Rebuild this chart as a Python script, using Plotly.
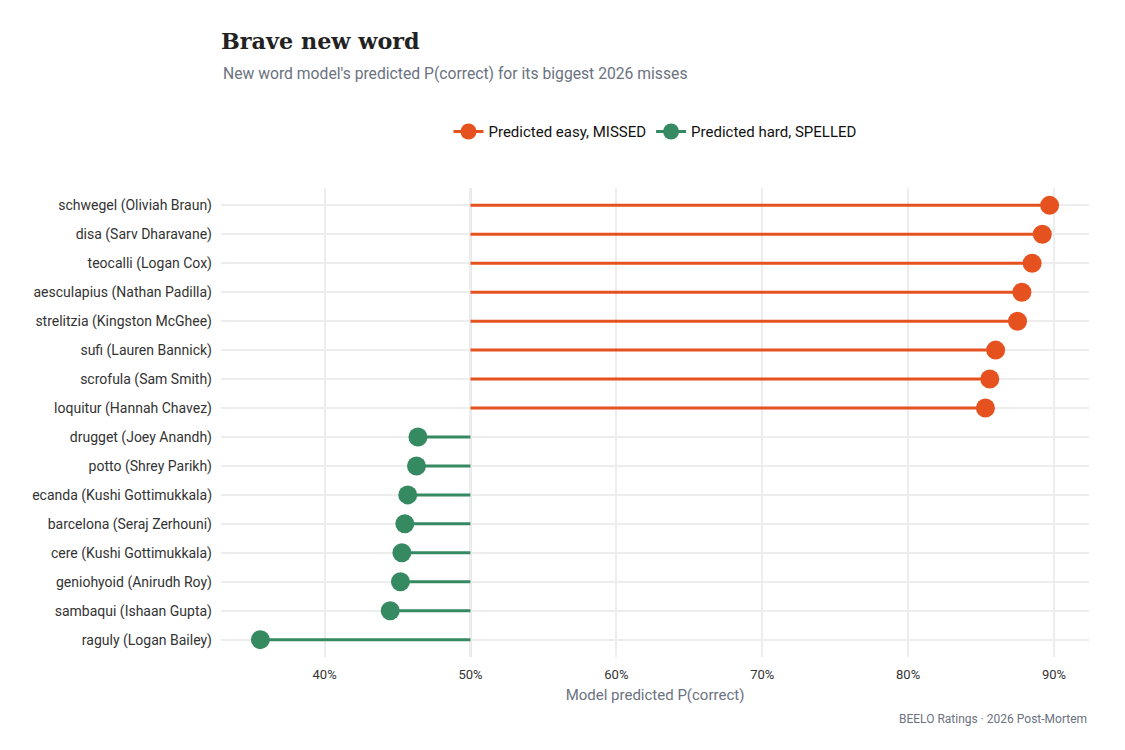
import plotly.graph_objects as go

# words ordered top to bottom
missed_words = ['schwegel (Oliviah Braun)', 'disa (Sarv Dharavane)', 'teocalli (Logan Cox)',
                'aesculapius (Nathan Padilla)', 'strelitzia (Kingston McGhee)', 'sufi (Lauren Bannick)',
                'scrofula (Sam Smith)', 'loquitur (Hannah Chavez)']
missed_p = [89.7, 89.2, 88.5, 87.8, 87.5, 86.0, 85.6, 85.3]

spelled_words = ['drugget (Joey Anandh)', 'potto (Shrey Parikh)', 'ecanda (Kushi Gottimukkala)',
                 'barcelona (Seraj Zerhouni)', 'cere (Kushi Gottimukkala)', 'geniohyoid (Anirudh Roy)',
                 'sambaqui (Ishaan Gupta)', 'raguly (Logan Bailey)']
spelled_p = [46.4, 46.3, 45.7, 45.5, 45.3, 45.2, 44.5, 35.6]

THRESHOLD = 50
x_ticks = [40, 50, 60, 70, 80, 90]

ORANGE = '#E6521F'
GREEN = '#368A62'

all_words = missed_words + spelled_words

fig = go.Figure()


def add_group(words, vals, color, name):
    # stems from the 50% line out to the value
    xs, ys = [], []
    for w, v in zip(words, vals):
        xs += [THRESHOLD, v, None]
        ys += [w, w, None]
    fig.add_trace(go.Scatter(x=xs, y=ys, mode='lines', line=dict(color=color, width=3),
                             showlegend=False, hoverinfo='skip'))
    fig.add_trace(go.Scatter(x=vals, y=words, mode='markers',
                             marker=dict(color=color, size=19), showlegend=False,
                             hovertemplate='%{y}: %{x:.1f}%<extra></extra>'))
    # legend entry with line through the dot
    fig.add_trace(go.Scatter(x=[None], y=[None], mode='lines+markers', name=name,
                             line=dict(color=color, width=3), marker=dict(color=color, size=19)))


add_group(missed_words, missed_p, ORANGE, 'Predicted easy, MISSED')
add_group(spelled_words, spelled_p, GREEN, 'Predicted hard, SPELLED')

fig.add_vline(x=THRESHOLD, line=dict(color='#8A8F9A', width=1.5), layer='below')

# page body has an 8px margin, so everything is nudged up/left by 8
fig.update_layout(
    width=1125, height=750,
    plot_bgcolor='white', paper_bgcolor='white',
    margin=dict(l=213, r=44, t=180, b=101),
    font=dict(family='Roboto', size=13, color='#333333'),
    title=dict(text='<b>Brave new word</b>', x=0, xref='paper', xanchor='left',
               y=1 - 33 / 750, yref='container', yanchor='middle',
               font=dict(family='DejaVu Serif', size=22.3, color='#222222')),
    legend=dict(orientation='h', x=0.5, xanchor='center', y=1.12, yanchor='middle',
                font=dict(size=15, color='#111111'), itemwidth=30),
    showlegend=True,
)

fig.add_annotation(text="New word model's predicted P(correct) for its biggest 2026 misses",
                   xref='paper', yref='paper', x=0, y=1.245, xanchor='left', yanchor='middle',
                   showarrow=False, font=dict(size=15.7, color='#6B7280'))
fig.add_annotation(text='BEELO Ratings · 2026 Post-Mortem',
                   xref='paper', yref='paper', x=1, y=-0.132, xanchor='right', yanchor='middle',
                   showarrow=False, font=dict(size=12, color='#6B7280'))

fig.update_xaxes(range=[32.9, 92.4], tickvals=x_ticks, ticktext=[f'{t}%' for t in x_ticks],
                 showgrid=True, gridcolor='#EDEDED', gridwidth=2, zeroline=False,
                 showline=False, ticks='', ticklabelstandoff=8,
                 tickfont=dict(size=13, color='#333333'),
                 title=dict(text='Model predicted P(correct)', standoff=8,
                            font=dict(size=15, color='#6B7280')))
fig.update_yaxes(categoryorder='array', categoryarray=all_words[::-1],
                 range=[-0.6, len(all_words) - 0.4],
                 showgrid=True, gridcolor='#EDEDED', gridwidth=2, zeroline=False,
                 showline=False, ticks='', ticklabelstandoff=8,
                 tickfont=dict(size=14, color='#333333'))

fig.write_html('out.html')
